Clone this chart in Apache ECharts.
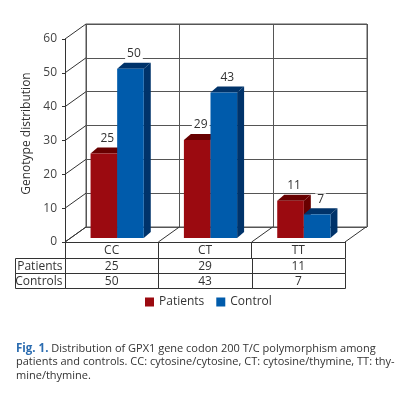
<!DOCTYPE html>
<html>
<head>
<meta charset="utf-8">
<script src="https://cdn.jsdelivr.net/npm/echarts@6/dist/echarts.min.js"></script>
<style>
  html, body { margin: 0; padding: 0; background: #fff; }
  #chart { width: 408px; height: 398px; }
</style>
</head>
<body>
<div id="chart"></div>
<script>
const categories = ['CC', 'CT', 'TT'];
const patients = [25, 29, 11];
const controls = [50, 43, 7];
const seriesNames = ['Patients', 'Control'];
const rowNames = ['Patients', 'Controls'];
const yTicks = [0, 10, 20, 30, 40, 50, 60];

const chart = echarts.init(document.getElementById('chart'));

const font = 'Open Sans';
const ink = '#333';
const wallLine = '#555';
const floorDepth = [21, -15];
const barDepth = [7, -6];

const bandOf = api => api.size([1, 0])[0];
const crisp = v => Math.round(v) + 0.5;

// fake 3D bar: side + top faces, then the front face and a boxed label
const barRender = (side, front, dark) => (params, api) => {
    const i = api.value(0);
    const v = api.value(1);
    const tip = api.coord([i, v]);
    const base = api.coord([i, 0]);
    const w = bandOf(api) * 0.285;
    const x0 = side === 0 ? tip[0] - w : tip[0];
    const y0 = tip[1];
    const y1 = base[1];
    const [dx, dy] = barDepth;
    return {
        type: 'group',
        children: [
            { type: 'polygon', shape: { points: [[x0 + w, y0], [x0 + w + dx, y0 + dy], [x0 + w + dx, y1 + dy], [x0 + w, y1]] }, style: { fill: dark } },
            { type: 'polygon', shape: { points: [[x0, y0], [x0 + w, y0], [x0 + w + dx, y0 + dy], [x0 + dx, y0 + dy]] }, style: { fill: dark } },
            { type: 'rect', shape: { x: x0, y: y0, width: w, height: y1 - y0 }, style: { fill: front } },
            {
                type: 'text', x: x0 + w / 2 + dx / 2, y: y0 + dy - 9,
                style: {
                    text: String(v), fill: ink, fontSize: 12, fontFamily: font,
                    align: 'center', verticalAlign: 'middle',
                    backgroundColor: '#fff', padding: [0, 2]
                }
            }
        ]
    };
};

const floorRender = (params, api) => {
    const i = api.value(0);
    const band = bandOf(api);
    const p = api.coord([i, 0]);
    const xs = [p[0] - band / 2];
    if (i === categories.length - 1) xs.push(p[0] + band / 2);
    return {
        type: 'group',
        children: xs.map(x => ({
            type: 'line',
            shape: { x1: x, y1: p[1], x2: x + floorDepth[0], y2: p[1] + floorDepth[1] },
            style: { stroke: ink, lineWidth: 1 }
        }))
    };
};

const wallRender = (params, api) => {
    const p = api.coord([0, api.value(1)]);
    const x = p[0] - bandOf(api) / 2;
    return {
        type: 'line',
        shape: { x1: x, y1: p[1], x2: x + floorDepth[0], y2: p[1] + floorDepth[1] },
        style: { stroke: ink, lineWidth: 1 }
    };
};

const tableRender = (params, api) => {
    const i = api.value(0);
    const r = api.value(1);
    const band = bandOf(api);
    const p = api.coord([i, 0]);
    const x0 = crisp(p[0] - band / 2);
    const x1 = crisp(p[0] + band / 2);
    const y0 = crisp(p[1] + 16 + r * 15);
    const cell = { fill: 'none', stroke: ink, lineWidth: 1 };
    const txt = { fill: ink, fontSize: 12, fontFamily: font, verticalAlign: 'middle' };
    const children = [
        { type: 'rect', shape: { x: x0, y: y0, width: x1 - x0, height: 15 }, style: cell },
        { type: 'text', x: p[0], y: y0 + 8, style: Object.assign({ text: String(api.value(2)), align: 'center' }, txt) }
    ];
    if (i === 0) {
        children.push(
            { type: 'rect', shape: { x: 15.5, y: y0, width: x0 - 15.5, height: 15 }, style: cell },
            { type: 'text', x: x0 - 3, y: y0 + 8, style: Object.assign({ text: rowNames[r], align: 'right' }, txt) }
        );
    }
    return { type: 'group', children };
};

const tableData = [];
[patients, controls].forEach((row, r) => row.forEach((v, i) => tableData.push([i, r, v])));

const option = {
    animation: false,
    backgroundColor: '#fff',
    textStyle: { fontFamily: font },
    title: {
        left: 11,
        top: 337,
        text: '{b|Fig. 1.} Distribution of GPX1 gene codon 200 T/C polymorphism among\npatients and controls. CC: cytosine/cytosine, CT: cytosine/thymine, TT: thy-\nmine/thymine.',
        textStyle: {
            fontSize: 11, fontWeight: 'normal', color: ink, lineHeight: 13.5, fontFamily: font,
            rich: { b: { fontSize: 11.5, fontWeight: 'bold', color: '#2b6cb0', fontFamily: font, lineHeight: 13.5 } }
        }
    },
    legend: {
        data: seriesNames,
        left: 140,
        top: 291,
        icon: 'rect',
        itemWidth: 9,
        itemHeight: 9,
        itemGap: 12,
        textStyle: { fontSize: 12, color: ink, fontFamily: font }
    },
    grid: [
        { left: 86, top: 24, width: 281, height: 203, show: true, borderColor: wallLine, borderWidth: 1, backgroundColor: 'transparent', outerBoundsMode: 'none' },
        { left: 65, top: 39, width: 280, height: 203, outerBoundsMode: 'none' },
        { left: 70.5, top: 35, width: 280, height: 203, outerBoundsMode: 'none' }
    ],
    xAxis: [
        {
            gridIndex: 0, type: 'category', data: categories,
            axisLine: { show: false }, axisTick: { show: false }, axisLabel: { show: false },
            splitLine: { show: true, interval: 0, lineStyle: { color: wallLine } }
        },
        {
            gridIndex: 1, type: 'category', data: categories,
            axisLine: { show: true, lineStyle: { color: ink } },
            axisTick: { show: true, interval: 0, length: 16, lineStyle: { color: ink } },
            axisLabel: { interval: 0, margin: 3, color: ink, fontSize: 12, fontFamily: font },
            splitLine: { show: false }
        },
        { gridIndex: 2, type: 'category', data: categories, show: false }
    ],
    yAxis: [
        {
            gridIndex: 0, type: 'value', min: 0, max: 60, interval: 10,
            axisLine: { show: false }, axisTick: { show: false }, axisLabel: { show: false },
            splitLine: { show: true, lineStyle: { color: wallLine } }
        },
        {
            gridIndex: 1, type: 'value', min: 0, max: 60, interval: 10,
            axisLine: { show: true, lineStyle: { color: ink } },
            axisTick: { show: true, length: 3, lineStyle: { color: ink } },
            axisLabel: { margin: 8, color: '#444', fontSize: 12, fontFamily: font },
            splitLine: { show: false },
            name: 'Genotype distribution',
            nameLocation: 'middle',
            nameRotate: 90,
            nameGap: 31,
            nameTextStyle: { fontSize: 12, color: ink, fontFamily: font, padding: [0, 0, 0, 14] }
        },
        { gridIndex: 2, type: 'value', min: 0, max: 60, show: false }
    ],
    series: [
        { type: 'custom', name: 'floor', xAxisIndex: 1, yAxisIndex: 1, silent: true, renderItem: floorRender, data: categories.map((c, i) => [i, 0]) },
        { type: 'custom', name: 'wall', xAxisIndex: 1, yAxisIndex: 1, silent: true, renderItem: wallRender, data: yTicks.map(t => [0, t]) },
        {
            type: 'custom', name: seriesNames[0], xAxisIndex: 2, yAxisIndex: 2,
            itemStyle: { color: '#9b0a10' },
            renderItem: barRender(0, '#9b0a10', '#680000'),
            data: patients.map((v, i) => [i, v])
        },
        {
            type: 'custom', name: seriesNames[1], xAxisIndex: 2, yAxisIndex: 2,
            itemStyle: { color: '#005bab' },
            renderItem: barRender(1, '#005bab', '#00336a'),
            data: controls.map((v, i) => [i, v])
        },
        { type: 'custom', name: 'table', xAxisIndex: 1, yAxisIndex: 1, silent: true, renderItem: tableRender, data: tableData }
    ]
};

chart.setOption(option);
</script>
</body>
</html>
